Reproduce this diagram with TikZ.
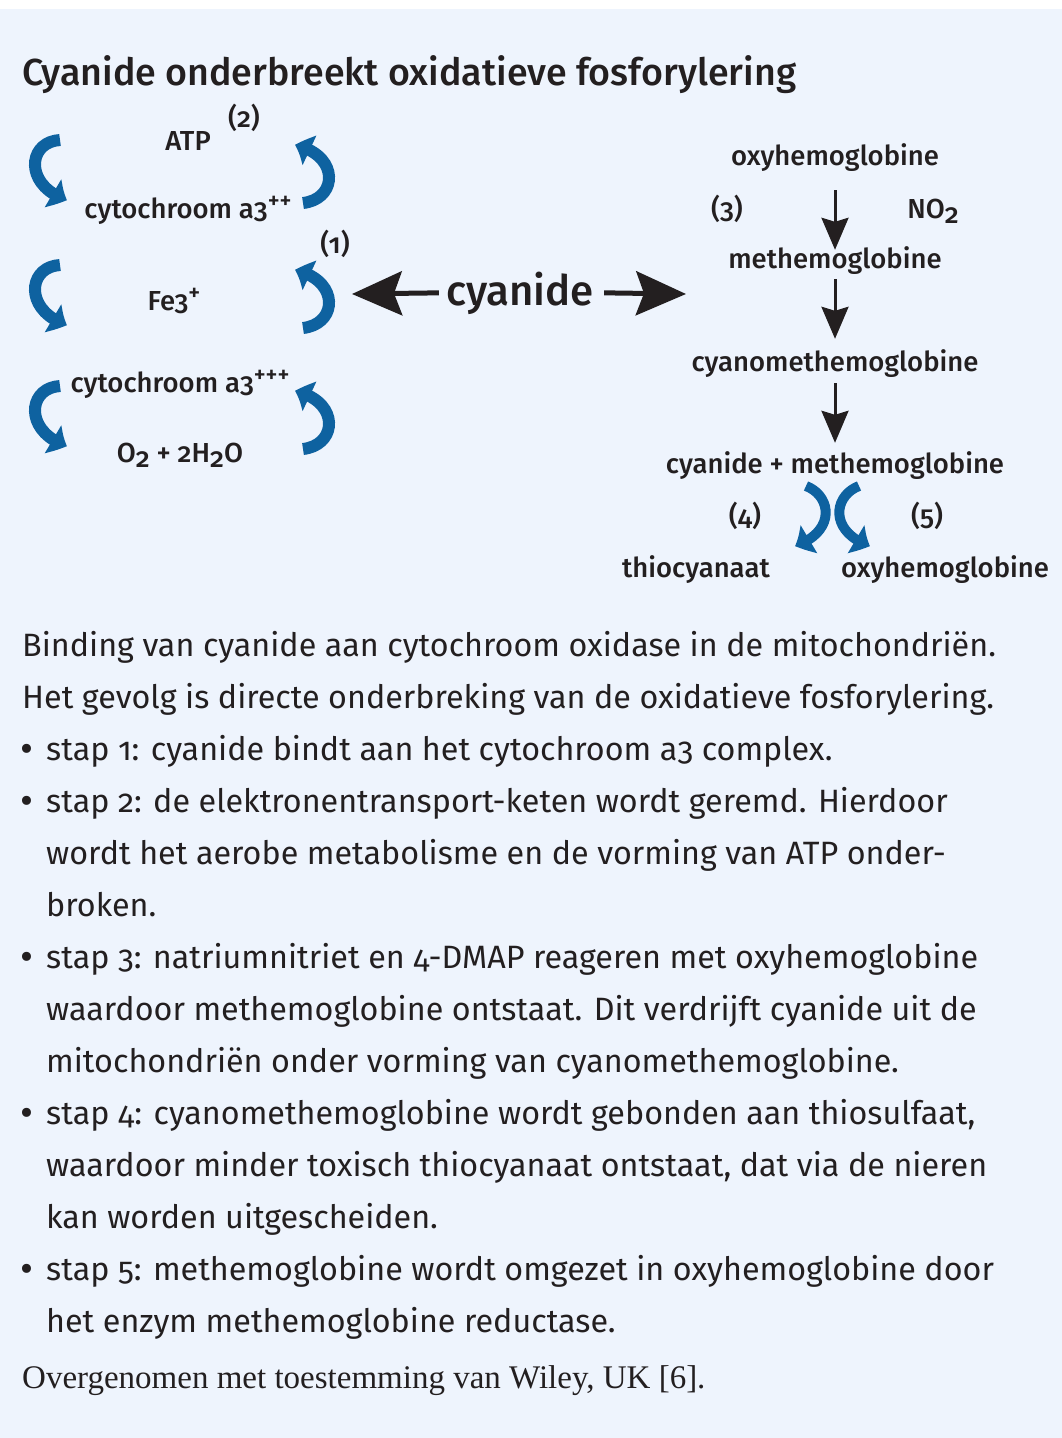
\documentclass[tikz,border=0pt]{standalone}
\usepackage{fontspec}
\setmainfont{Fira Sans}[Numbers=OldStyle]
\IfFontExistsTF{Fira Sans Medium}
  {\newfontfamily\labfont{Fira Sans Medium}[Numbers=OldStyle]}
  {\IfFontExistsTF{Fira Sans SemiBold}
    {\newfontfamily\labfont{Fira Sans SemiBold}[Numbers=OldStyle]}
    {\newfontfamily\labfontb{Fira Sans}[Numbers=OldStyle]\newcommand\labfont{\labfontb\bfseries}}}
\newfontfamily\serfont{Liberation Serif}
\usetikzlibrary{arrows.meta,bending}
\definecolor{bg}{RGB}{238,244,253}
\definecolor{ink}{RGB}{35,31,32}
\definecolor{arrblue}{RGB}{14,98,160}
\newcommand\sups[1]{\raisebox{10pt}{\fontsize{23}{23}\selectfont #1}}
\newcommand\subs[1]{\raisebox{-5pt}{#1}}
\begin{document}
\begin{tikzpicture}[x=1pt,y=-1pt,
  lab/.style={font=\labfont\fontsize{27.5}{27.5}\selectfont, text=ink, inner sep=0pt, anchor=base},
  chain/.style={lab, text height=20pt, text depth=6pt},
  body/.style={font=\fontsize{32.3}{32.3}\selectfont, text=ink, inner sep=0pt, anchor=base west},
  bul/.style={font=\fontsize{40}{40}\selectfont, text=ink, inner sep=0pt, anchor=base west},
  barr/.style={draw=arrblue, line width=12pt, -{Triangle[width=31pt,length=16pt,bend]}},
  blk/.style={draw=ink, line width=3pt, -{Stealth[width=27pt,length=32pt,inset=4pt]}},
  bigarr/.style={draw=ink, line width=5pt, -{Stealth[width=44pt,length=50pt,inset=8pt]}}]
\fill[white] (0,0) rectangle (1062,1438);
\fill[bg] (0,9) rectangle (1062,1438);
\useasboundingbox (0,0) rectangle (1062,1438);

% title
\node[font=\labfont\fontsize{37.6}{37.6}\selectfont, text=ink, inner sep=0pt, anchor=base west] (title) at (22,85) {Cyanide onderbreekt oxidatieve fosforylering};

% left cycle
\node[lab] (n2) at (244,127) {(2)};
\node[lab] (atp) at (188,150) {ATP};
\node[lab] (cyt2) at (188,218) {cytochroom a3\sups{++}};
\node[lab] (n1) at (335,253) {(1)};
\node[lab] (fe) at (174,310) {Fe3\sups{+}};
\node[lab] (cyt3) at (180,392) {cytochroom a3\sups{+++}};
\node[lab] (wat) at (180,462) {O\subs{2} + 2H\subs{2}O};

\foreach \y in {134,259,380}
  \draw[barr] (60,\y+6) .. controls (27,\y+8) and (24,\y+52) .. (67,\y+66);
\foreach \t in {203,328,449}
  \draw[barr] (303,\t) .. controls (338,\t-4) and (340,\t-48) .. (295,\t-58);

% centre
\node[font=\labfont\fontsize{42}{42}\selectfont, text=ink, inner sep=0pt, anchor=base] (cyan) at (520,305) {cyanide};
\coordinate (lt) at (352,294);
\coordinate (rt) at (686,294);
\draw[bigarr] ([xshift=-7pt]cyan.west) -- (lt);
\draw[bigarr] ([xshift=10pt]cyan.east) -- (rt);

% right chain
\node[chain] (oxy1) at (835,165) {oxyhemoglobine};
\node[lab] (n3) at (727,218) {(3)};
\node[lab] (no2) at (933,218) {NO\subs{2}};
\node[chain] (met1) at (835,268) {methemoglobine};
\node[chain] (cyano) at (835,371) {cyanomethemoglobine};
\node[chain] (cymet) at (835,473) {cyanide + methemoglobine};
\node[lab] (n4) at (745,525) {(4)};
\node[lab] (n5) at (927,525) {(5)};
\node[lab] (thio) at (696,577) {thiocyanaat};
\node[lab] (oxy2) at (945,577) {oxyhemoglobine};

\draw[blk, shorten <=19pt, shorten >=-2pt] (oxy1.south) -- (met1.north);
\draw[blk, shorten <=5pt, shorten >=12pt] (met1.south) -- (cyano.north);
\draw[blk, shorten <=6pt, shorten >=10pt] (cyano.south) -- (cymet.north);

\draw[barr, line width=10pt] (806,486) .. controls (832,496) and (836,532) .. (795,546);
\draw[barr, line width=10pt] (859,486) .. controls (833,496) and (829,532) .. (870,546);

% body text
\node[body] (b1) at (22,656) {Binding van cyanide aan cytochroom oxidase in de mitochondriën.};
\node[body] (b2) at (22,708) {Het gevolg is directe onderbreking van de oxidatieve fosforylering.};
\node[bul] (u1) at (20,762) {•};
\node[body] (b3) at (46,760) {stap 1: cyanide bindt aan het cytochroom a3 complex.};
\node[bul] (u2) at (20,814) {•};
\node[body] (b4) at (46,812) {stap 2: de elektronentransport-keten wordt geremd. Hierdoor};
\node[body] (b5) at (46,864) {wordt het aerobe metabolisme en de vorming van ATP onder-};
\node[body] (b6) at (46,916) {broken.};
\node[bul] (u3) at (20,970) {•};
\node[body] (b7) at (46,968) {stap 3: natriumnitriet en 4-DMAP reageren met oxyhemoglobine};
\node[body] (b8) at (46,1020) {waardoor methemoglobine ontstaat. Dit verdrijft cyanide uit de};
\node[body] (b9) at (46,1072) {mitochondriën onder vorming van cyanomethemoglobine.};
\node[bul] (u4) at (20,1126) {•};
\node[body] (b10) at (46,1124) {stap 4: cyanomethemoglobine wordt gebonden aan thiosulfaat,};
\node[body] (b11) at (46,1176) {waardoor minder toxisch thiocyanaat ontstaat, dat via de nieren};
\node[body] (b12) at (46,1228) {kan worden uitgescheiden.};
\node[bul] (u5) at (20,1282) {•};
\node[body] (b13) at (46,1280) {stap 5: methemoglobine wordt omgezet in oxyhemoglobine door};
\node[body] (b14) at (46,1332) {het enzym methemoglobine reductase.};
\node[font=\serfont\fontsize{33}{33}\selectfont, text=ink, inner sep=0pt, anchor=base west] (src) at (22,1388) {Overgenomen met toestemming van Wiley, UK [6].};
\end{tikzpicture}
\end{document}
